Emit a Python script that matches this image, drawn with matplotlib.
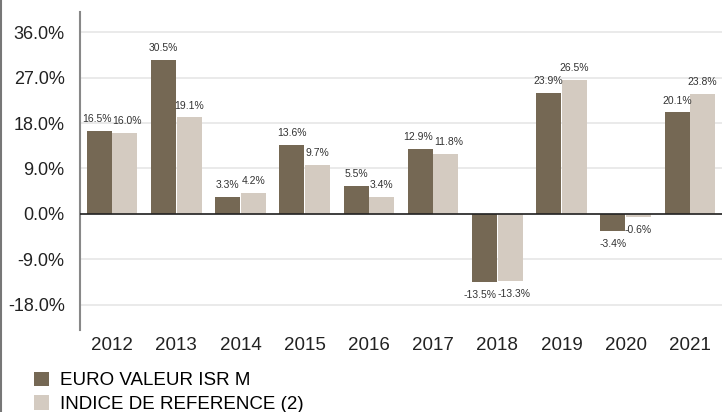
import matplotlib
matplotlib.use("Agg")
import matplotlib.pyplot as plt
from matplotlib.patches import Patch
from matplotlib.lines import Line2D
import numpy as np

plt.rcParams['font.family'] = ['Liberation Sans', 'DejaVu Sans']

years = ['2012', '2013', '2014', '2015', '2016', '2017', '2018', '2019', '2020', '2021']
fund = [16.5, 30.5, 3.3, 13.6, 5.5, 12.9, -13.5, 23.9, -3.4, 20.1]
index = [16.0, 19.1, 4.2, 9.7, 3.4, 11.8, -13.3, 26.5, -0.6, 23.8]
series_names = ['EURO VALEUR ISR M', 'INDICE DE REFERENCE (2)']
yticks = [-18, -9, 0, 9, 18, 27, 36]

c_dark = '#756854'
c_light = '#d4cbc1'

fig = plt.figure(figsize=(7.22, 4.12), dpi=100)
ax = fig.add_axes([80/722, 1 - 330/412, 642/722, 318/412])

x = np.arange(len(years))
w = 0.39
off = 0.2
b1 = ax.bar(x - off, fund, w, color=c_dark, zorder=3)
b2 = ax.bar(x + off, index, w, color=c_light, zorder=3)

ax.set_xlim(-0.5, len(years) - 0.5)
ax.set_ylim(-23.0, 40.0)

labels = []
for bars, vals in ((b1, fund), (b2, index)):
    row = []
    for rect, v in zip(bars, vals):
        cx = rect.get_x() + rect.get_width() / 2
        dy = 5 if v >= 0 else -6
        va = 'bottom' if v >= 0 else 'top'
        t = ax.annotate(f'{v:.1f}%', (cx, v), xytext=(0, dy), textcoords='offset points',
                        ha='center', va=va, fontsize=7.5, color='#333333')
        row.append(t)
    labels.append(row)

# push apart labels within a group that would overlap
fig.canvas.draw()
r = fig.canvas.get_renderer()
for i in range(len(years)):
    t1, t2 = labels[0][i], labels[1][i]
    e1, e2 = t1.get_window_extent(r), t2.get_window_extent(r)
    vert_overlap = not (e1.y1 < e2.y0 or e2.y1 < e1.y0)
    ov = e1.x1 - e2.x0 + 1
    if vert_overlap and ov > 0:
        shift_pt = ov / 2 * 72 / fig.dpi
        p1 = t1.xyann
        p2 = t2.xyann
        t1.xyann = (p1[0] - shift_pt, p1[1])
        t2.xyann = (p2[0] + shift_pt, p2[1])

ax.set_yticks(yticks)
ax.set_yticklabels([f'{t:.1f}%' for t in yticks], fontsize=13, color='#222222')
ax.set_xticks(x)
ax.set_xticklabels(years, fontsize=13.5, color='#222222')
ax.tick_params(axis='both', length=0)
ax.tick_params(axis='y', pad=11)
ax.tick_params(axis='x', pad=5)
ax.grid(axis='y', color='#e6e6e6', linewidth=1.2, zorder=0)
ax.axhline(0, color='#222222', linewidth=1.2, zorder=4)
for s in ('top', 'right', 'bottom'):
    ax.spines[s].set_visible(False)
ax.spines['left'].set_color('#888888')
ax.spines['left'].set_linewidth(1.5)

handles = [Patch(facecolor=c_dark, edgecolor='none'), Patch(facecolor=c_light, edgecolor='none')]
fig.legend(handles, series_names, loc='upper left', bbox_to_anchor=(26/722, 1 - 364/412),
           frameon=False, fontsize=13.5, handlelength=0.82, handleheight=0.82,
           handletextpad=0.6, labelspacing=0.3, borderaxespad=0)

fig.add_artist(Line2D([1/722, 1/722], [0, 1], transform=fig.transFigure, color='#777777', linewidth=1.5))

fig.savefig('out.png', dpi=100)
